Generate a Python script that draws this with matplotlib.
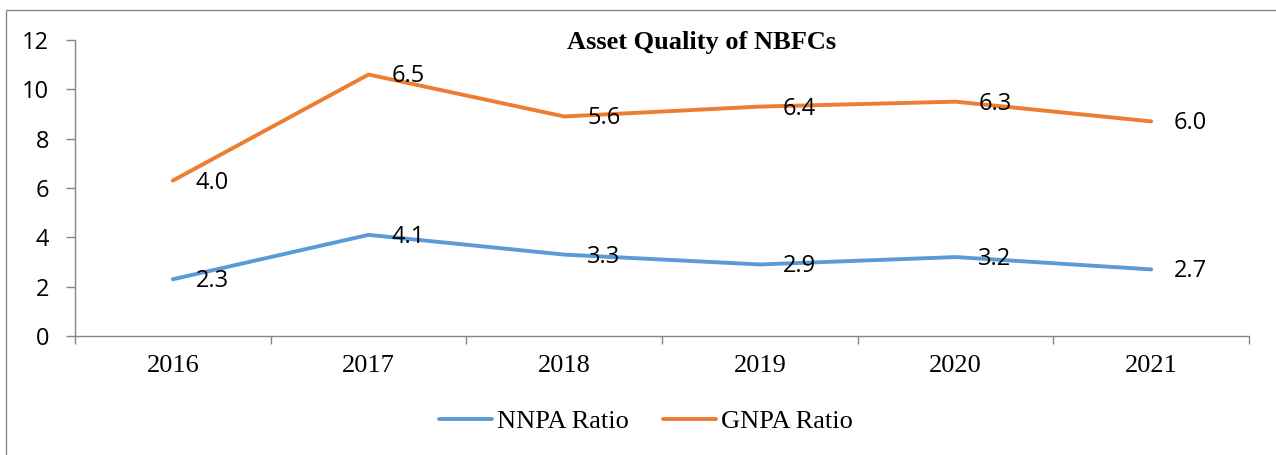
import matplotlib.pyplot as plt
from matplotlib.patches import Rectangle

# Data
years = ["2016", "2017", "2018", "2019", "2020", "2021"]
nnpa = [2.3, 4.1, 3.3, 2.9, 3.2, 2.7]
gnpa = [6.3, 10.6, 8.9, 9.3, 9.5, 8.7]
# the data labels printed on the chart
nnpa_labels = ["2.3", "4.1", "3.3", "2.9", "3.2", "2.7"]
gnpa_labels = ["4.0", "6.5", "5.6", "6.4", "6.3", "6.0"]

blue = "#5B9BD5"
orange = "#ED7D31"
gray = "#868686"
serif = "Liberation Serif"
sans = "Open Sans"

fig = plt.figure(figsize=(12.76, 4.55), dpi=100)
ax = fig.add_axes([75 / 1276, 1 - 336 / 455, (1249 - 75) / 1276, (336 - 40) / 455])

# outer chart border (cropped at right and bottom)
fig.patches.append(Rectangle((6 / 1276, -0.1), 1.2, 1.1 - 10 / 455,
                             transform=fig.transFigure, fill=False,
                             edgecolor="#898989", linewidth=1.0))

x = list(range(len(years)))
ax.plot(x, nnpa, color=blue, linewidth=2.8, label="NNPA Ratio", solid_capstyle="round")
ax.plot(x, gnpa, color=orange, linewidth=2.8, label="GNPA Ratio", solid_capstyle="round")

for xi, yi, lab in zip(x, nnpa, nnpa_labels):
    ax.annotate(lab, (xi, yi), xytext=(16.5, -1.4), textcoords="offset points",
                ha="left", va="center", fontsize=17, family=sans)
for xi, yi, lab in zip(x, gnpa, gnpa_labels):
    ax.annotate(lab, (xi, yi), xytext=(16.5, -1.4), textcoords="offset points",
                ha="left", va="center", fontsize=17, family=sans)

ax.set_xlim(-0.5, len(years) - 0.5)
ax.set_ylim(0, 12)
ax.set_yticks(range(0, 13, 2))
ax.set_xticks(x)
ax.set_xticklabels(years, family=serif, fontsize=19)
ax.set_xticks([i - 0.5 for i in range(len(years) + 1)], minor=True)
ax.tick_params(axis="x", which="major", length=0, pad=14)
ax.tick_params(axis="x", which="minor", length=6, width=1, color=gray, direction="out")
ax.tick_params(axis="y", length=6.5, width=1, color=gray, pad=12)
for t in ax.get_yticklabels():
    t.set_family(sans)
    t.set_fontsize(17)

for s in ["top", "right"]:
    ax.spines[s].set_visible(False)
for s in ["left", "bottom"]:
    ax.spines[s].set_color(gray)
    ax.spines[s].set_linewidth(1)

fig.text(702 / 1276, 1 - 43 / 455, "Asset Quality of NBFCs", ha="center", va="center",
         family=serif, fontweight="bold", fontsize=19)

ax.legend(loc="center", bbox_to_anchor=(646 / 1276, 1 - 421 / 455),
          bbox_transform=fig.transFigure, ncol=2, frameon=False,
          prop={"family": serif, "size": 19}, handlelength=2.0,
          handletextpad=0.2, columnspacing=1.3)

fig.savefig("out.png", dpi=100)
